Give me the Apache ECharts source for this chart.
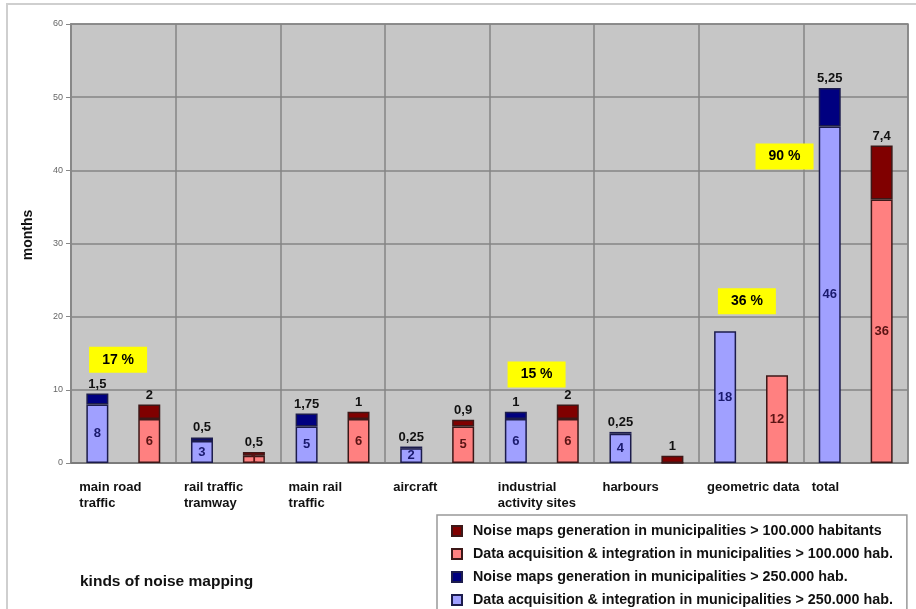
<!DOCTYPE html>
<html lang="en">
<head>
    <meta charset="UTF-8">
    <title>kinds of noise mapping</title>
    <script src="https://cdn.jsdelivr.net/npm/echarts@6/dist/echarts.min.js"></script>
    <style>
        html, body { margin: 0; padding: 0; background: #fff; }
        #chart { width: 916px; height: 609px; }
    </style>
</head>
<body>
<div id="chart"></div>
<script type="text/javascript">
    // categories and values
    let categories = ['main road\ntraffic', 'rail traffic\ntramway', 'main rail\ntraffic', 'aircraft',
        'industrial\nactivity sites', 'harbours', 'geometric data', 'total'];
    let acq250 = [8, 3, 5, 2, 6, 4, 18, 46];
    let gen250 = [1.5, 0.5, 1.75, 0.25, 1, 0.25, null, 5.25];
    let acq100 = [6, 1, 6, 5, 6, 0, 12, 36];
    let gen100 = [2, 0.5, 1, 0.9, 2, 1, null, 7.4];

    // yellow percent boxes: x in category units, y in months
    let pctText = ['17 %', '15 %', '36 %', '90 %'];
    let pctX = [-0.05, 3.95, 5.96, 6.32];
    let pctY = [14.1, 12.1, 22.1, 41.9];

    let names = {
        gen100: 'Noise maps generation in municipalities > 100.000 habitants',
        acq100: 'Data acquisition & integration in municipalities > 100.000 hab.',
        gen250: 'Noise maps generation in municipalities > 250.000 hab.',
        acq250: 'Data acquisition & integration in municipalities > 250.000 hab.'
    };

    let font = 'Liberation Sans, Arial, sans-serif';
    let comma = v => (v === null || v === undefined || v === 0) ? '' : String(v).replace('.', ',');

    let chart = echarts.init(document.getElementById('chart'));

    function bar(name, data, stack, color, border, label) {
        return {
            name: name,
            type: 'bar',
            stack: stack,
            data: data,
            barWidth: 22,
            barGap: '136%',
            itemStyle: { color: color, borderColor: border, borderWidth: 1.5 },
            label: Object.assign({
                show: true,
                fontFamily: font,
                fontWeight: 'bold',
                fontSize: 13,
                formatter: p => comma(p.value)
            }, label),
            emphasis: { disabled: true }
        };
    }

    chart.setOption({
        backgroundColor: '#fff',
        animation: false,
        grid: {
            left: 71, right: 8, top: 24, bottom: 146,
            show: true,
            backgroundColor: '#c6c6c6',
            borderColor: '#8a8a8a',
            borderWidth: 1.5
        },
        legend: {
            orient: 'vertical',
            left: 437,
            top: 515,
            height: 110,
            padding: [9, 14, 9, 14],
            itemGap: 9,
            itemWidth: 10,
            itemHeight: 10,
            backgroundColor: '#fff',
            borderColor: '#999',
            borderWidth: 1.5,
            icon: 'rect',
            selectedMode: false,
            textStyle: { fontFamily: font, fontWeight: 'bold', fontSize: 14.3, color: '#111', padding: [0, 0, 0, 6] },
            data: [names.gen100, names.acq100, names.gen250, names.acq250]
        },
        xAxis: [
            {
                type: 'category',
                data: categories,
                axisLine: { lineStyle: { color: '#777', width: 1.5 } },
                axisTick: { show: false },
                splitLine: { show: true, lineStyle: { color: '#858585', width: 1.5 } },
                axisLabel: {
                    interval: 0,
                    margin: 16,
                    align: 'center',
                    formatter: v => v.split('\n').map(s => '{a|' + s + '}').join('\n'),
                    rich: {
                        a: { width: 88, align: 'left', fontFamily: font, fontWeight: 'bold', fontSize: 13, lineHeight: 16, color: '#111' }
                    }
                }
            },
            {
                type: 'value',
                min: -0.5,
                max: 7.5,
                show: false,
                splitLine: { show: false }
            }
        ],
        yAxis: {
            type: 'value',
            min: 0,
            max: 60,
            interval: 10,
            axisLine: { show: true, onZero: false, lineStyle: { color: '#888', width: 2 } },
            axisTick: { show: true, length: 5, lineStyle: { color: '#888' } },
            splitLine: { lineStyle: { color: '#858585', width: 1.5 } },
            axisLabel: { fontFamily: font, fontSize: 9, color: '#666', margin: 8 }
        },
        graphic: [
            {
                type: 'rect',
                shape: { x: 7, y: 4, width: 1000, height: 700 },
                style: { fill: 'none', stroke: '#cfcfcf', lineWidth: 2 },
                silent: true
            },
            {
                type: 'text',
                x: 28, y: 235,
                rotation: Math.PI / 2,
                style: { text: 'months', fontFamily: font, fontWeight: 'bold', fontSize: 14, fill: '#111', align: 'center', verticalAlign: 'middle' }
            },
            {
                type: 'text',
                left: 80, top: 574,
                style: { text: 'kinds of noise mapping', fontFamily: font, fontWeight: 'bold', fontSize: 15.5, fill: '#111' }
            }
        ],
        series: [
            bar(names.acq250, acq250, 'big', '#a0a0ff', '#1c1c4c', { position: 'inside', color: '#1a1a6e' }),
            bar(names.gen250, gen250, 'big', '#000080', '#1c1c4c', { position: 'top', color: '#111', distance: 3 }),
            bar(names.acq100, acq100, 'small', '#ff8080', '#3c1818', { position: 'inside', color: '#5a1414' }),
            bar(names.gen100, gen100, 'small', '#800000', '#3c1818', { position: 'top', color: '#111', distance: 3 }),
            {
                type: 'scatter',
                xAxisIndex: 1,
                data: pctX.map((x, i) => [x, pctY[i]]),
                symbol: 'rect',
                symbolSize: [58, 26],
                itemStyle: { color: '#ffff00', opacity: 1 },
                label: {
                    show: true,
                    position: 'inside',
                    fontFamily: font,
                    fontWeight: 'bold',
                    fontSize: 14,
                    color: '#000',
                    formatter: p => pctText[p.dataIndex]
                },
                silent: true,
                z: 5
            }
        ]
    });
</script>
</body>
</html>
